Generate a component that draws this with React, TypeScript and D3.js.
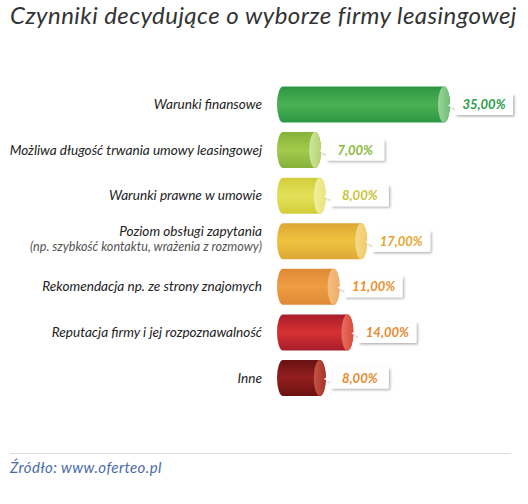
import { scaleLinear, scalePoint, formatLocale } from "d3";

// poziome "cylindry" z etykietami w dymkach

const CATEGORIES = [
  "Warunki finansowe",
  "Możliwa długość trwania umowy leasingowej",
  "Warunki prawne w umowie",
  "Poziom obsługi zapytania",
  "Rekomendacja np. ze strony znajomych",
  "Reputacja firmy i jej rozpoznawalność",
  "Inne",
];
const SUBLABELS = ["", "", "", "(np. szybkość kontaktu, wrażenia z rozmowy)", "", "", ""];
const VALUES = [35, 7, 8, 17, 11, 14, 8];

const TITLE = "Czynniki decydujące o wyborze firmy leasingowej";
const SOURCE = "Źródło: www.oferteo.pl";

// [edge, middle, cap light, cap dark, label text]
const PALETTE = [
  ["#2b9744", "#4cb153", "#9fd39d", "#6dbf72", "#2a9a48"],
  ["#86b13a", "#a2cb4c", "#cfe4a2", "#b3d46e", "#8ab83a"],
  ["#d3cd3a", "#e4e15a", "#f1ee9e", "#e9e57c", "#c9c23a"],
  ["#dea736", "#eec43f", "#f4d98c", "#f0cd66", "#e4a530"],
  ["#de8a36", "#ee9d43", "#f4bf84", "#f0ad62", "#e8902c"],
  ["#a71d2b", "#d83232", "#e6705f", "#dc4a3e", "#e88a30"],
  ["#6a1212", "#951e1e", "#c25446", "#aa3228", "#e88a30"],
];

const W = 528;
const H = 504;
const BAR_H = 36;
const CAP_RX = 6;
const LABEL_X = 262;
const FONT = "Lato, 'Open Sans', sans-serif";

const pl = formatLocale({ decimal: ",", thousands: " ", grouping: [3], currency: ["", " zł"] });
const fmt = (v: number) => pl.format(".2f")(v) + "%";

export default function App() {
  const xScale = scaleLinear().domain([0, 35]).range([283, 444]);
  const yScale = scalePoint<number>()
    .domain(CATEGORIES.map((_, i) => i))
    .range([104.5, 378]);

  const rows = CATEGORIES.map((cat, i) => {
    const cy = yScale(i) ?? 0;
    const x0 = xScale(0);
    const x1 = xScale(VALUES[i]);
    const top = cy - BAR_H / 2;
    const bot = cy + BAR_H / 2;
    const ry = BAR_H / 2;
    const body = [
      "M", x0, top,
      "L", x1, top,
      "A", CAP_RX, ry, 0, 0, 1, x1, bot,
      "L", x0, bot,
      "A", CAP_RX, ry, 0, 0, 1, x0, top,
      "Z",
    ].join(" ");

    // dymek z wartością
    const bx = x1 + CAP_RX + 5;
    const bw = 58;
    const bh = 21;
    const by = cy - bh / 2;
    const tip = x1 + CAP_RX - 2;
    const bubble = [
      "M", bx, by,
      "L", bx + bw, by,
      "L", bx + bw, by + bh,
      "L", bx, by + bh,
      "L", bx, cy + 4,
      "L", tip, cy + 1,
      "L", bx, cy - 4,
      "Z",
    ].join(" ");

    const sub = SUBLABELS[i];
    return (
      <g key={cat}>
        <text
          x={LABEL_X}
          y={sub ? cy - 5 : cy + 4.5}
          textAnchor="end"
          fontFamily={FONT}
          fontStyle="italic"
          fontSize={13.6}
          fill="#222"
        >
          {cat}
        </text>
        {sub && (
          <text
            x={LABEL_X}
            y={cy + 10}
            textAnchor="end"
            fontFamily={FONT}
            fontStyle="italic"
            fontSize={12.6}
            fill="#555"
          >
            {sub}
          </text>
        )}
        <path d={body} fill={`url(#body${i})`} />
        <ellipse cx={x1} cy={cy} rx={CAP_RX} ry={ry} fill={`url(#cap${i})`} />
        <path d={bubble} fill="#fff" filter="url(#shadow)" />
        <text
          x={bx + bw / 2}
          y={cy + 4.5}
          textAnchor="middle"
          fontFamily={FONT}
          fontStyle="italic"
          fontWeight="bold"
          fontSize={13}
          fill={PALETTE[i][4]}
        >
          {fmt(VALUES[i])}
        </text>
      </g>
    );
  });

  return (
    <svg
      width={W}
      height={H}
      style={{ position: "absolute", left: 0, top: 0, background: "#fff" }}
    >
      <defs>
        {PALETTE.map((c, i) => (
          <linearGradient key={"b" + i} id={`body${i}`} x1="0" y1="0" x2="0" y2="1">
            <stop offset="0%" stopColor={c[0]} />
            <stop offset="50%" stopColor={c[1]} />
            <stop offset="100%" stopColor={c[0]} />
          </linearGradient>
        ))}
        {PALETTE.map((c, i) => (
          <linearGradient key={"c" + i} id={`cap${i}`} x1="0" y1="0" x2="1" y2="0">
            <stop offset="0%" stopColor={c[2]} />
            <stop offset="100%" stopColor={c[3]} />
          </linearGradient>
        ))}
        <filter id="shadow" x="-20%" y="-30%" width="150%" height="180%">
          <feDropShadow dx="1.5" dy="1.5" stdDeviation="1.2" floodColor="#000" floodOpacity="0.3" />
        </filter>
      </defs>

      <text
        x={10}
        y={24}
        fontFamily={FONT}
        fontStyle="italic"
        fontSize={24}
        letterSpacing={0.45}
        fill="#333"
      >
        {TITLE}
      </text>

      {rows}

      <line x1={10} x2={511} y1={453.5} y2={453.5} stroke="#ddd" strokeWidth={1} />
      <text
        x={10}
        y={473}
        fontFamily={FONT}
        fontStyle="italic"
        fontSize={15}
        letterSpacing={0.4}
        fill="#4a6aa8"
      >
        {SOURCE}
      </text>
    </svg>
  );
}
